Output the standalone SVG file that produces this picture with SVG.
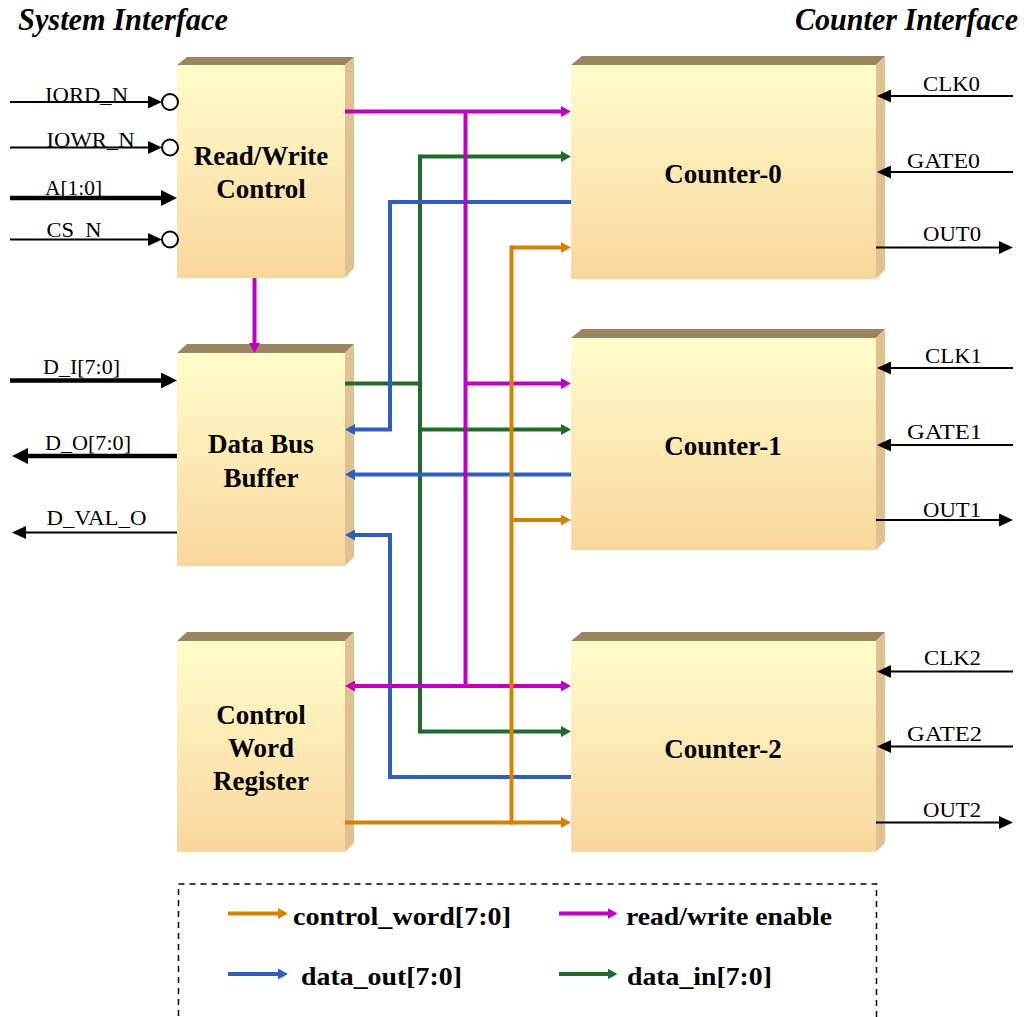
<svg xmlns="http://www.w3.org/2000/svg" width="1024" height="1017" viewBox="0 0 1024 1017">
<style>
.front{stroke:none}
.top{fill:#9A8462}
.side{fill:#E1C190}
.lbl{font-family:"Liberation Serif","Times New Roman",serif;font-weight:bold;font-size:27px;fill:#000;text-anchor:middle}
.io{font-family:"Liberation Serif","Times New Roman",serif;font-size:22px;fill:#000}
.ttl{font-family:"Liberation Serif","Times New Roman",serif;font-weight:bold;font-style:italic;font-size:31px;fill:#000}
.leg{font-family:"Liberation Serif","Times New Roman",serif;font-weight:bold;font-size:26px;fill:#000}
.w{fill:none;stroke-width:4;stroke-linejoin:miter;stroke-linecap:butt}
.m{stroke:#BF00BF}
.g{stroke:#1F6B2A}
.b{stroke:#2F5EBD}
.o{stroke:#D68000}
.thin{fill:none;stroke:#000;stroke-width:2}
.thick{fill:none;stroke:#000;stroke-width:4.5}
</style>
<defs>
<linearGradient id="fg" x1="0" y1="0" x2="0" y2="1">
<stop offset="0" stop-color="#FFFDCA"/>
<stop offset="1" stop-color="#FAD69E"/>
</linearGradient>
<marker id="aM" markerUnits="userSpaceOnUse" markerWidth="10" markerHeight="11" refX="0.5" refY="5.5" orient="auto-start-reverse"><path d="M0,0 L10,5.5 L0,11 z" fill="#BF00BF"/></marker>
<marker id="aG" markerUnits="userSpaceOnUse" markerWidth="10" markerHeight="11" refX="0.5" refY="5.5" orient="auto-start-reverse"><path d="M0,0 L10,5.5 L0,11 z" fill="#1F6B2A"/></marker>
<marker id="aB" markerUnits="userSpaceOnUse" markerWidth="10" markerHeight="11" refX="0.5" refY="5.5" orient="auto-start-reverse"><path d="M0,0 L10,5.5 L0,11 z" fill="#2F5EBD"/></marker>
<marker id="aO" markerUnits="userSpaceOnUse" markerWidth="10" markerHeight="11" refX="0.5" refY="5.5" orient="auto-start-reverse"><path d="M0,0 L10,5.5 L0,11 z" fill="#D68000"/></marker>
<marker id="aT" markerUnits="userSpaceOnUse" markerWidth="14" markerHeight="13" refX="0.5" refY="6.5" orient="auto"><path d="M0,0 L14,6.5 L0,13 z" fill="#000"/></marker>
<marker id="aK" markerUnits="userSpaceOnUse" markerWidth="16" markerHeight="16" refX="0.5" refY="8" orient="auto"><path d="M0,0 L16,8 L0,16 z" fill="#000"/></marker>
</defs>

<text class="ttl" x="18" y="30" textLength="210" lengthAdjust="spacingAndGlyphs">System Interface</text>
<text class="ttl" x="795" y="30" textLength="223" lengthAdjust="spacingAndGlyphs">Counter Interface</text>

<g id="rw-control">
<polygon class="top" points="177,65 187,57 354,57 345,65"/>
<polygon class="side" points="345,65 354,57 354,268 345,278"/>
<rect x="177" y="65" width="168" height="213" fill="url(#fg)"/>
<text class="lbl" x="261" y="165">Read/Write</text>
<text class="lbl" x="261" y="198">Control</text>
</g>

<g id="data-bus-buffer">
<polygon class="top" points="177,353 187,344 354,344 345,353"/>
<polygon class="side" points="345,353 354,344 354,557 345,566"/>
<rect x="177" y="353" width="168" height="213" fill="url(#fg)"/>
<text class="lbl" x="261" y="453">Data Bus</text>
<text class="lbl" x="261" y="487">Buffer</text>
</g>

<g id="control-word-register">
<polygon class="top" points="177,641 187,632 354,632 345,641"/>
<polygon class="side" points="345,641 354,632 354,843 345,852"/>
<rect x="177" y="641" width="168" height="211" fill="url(#fg)"/>
<text class="lbl" x="261" y="724">Control</text>
<text class="lbl" x="261" y="757">Word</text>
<text class="lbl" x="261" y="790">Register</text>
</g>

<g id="counter-0">
<polygon class="top" points="571,65 582,56 885,56 876,65"/>
<polygon class="side" points="876,65 885,56 885,270 876,279"/>
<rect x="571" y="65" width="305" height="214" fill="url(#fg)"/>
<text class="lbl" x="723" y="183">Counter-0</text>
</g>

<g id="counter-1">
<polygon class="top" points="571,338 582,329 885,329 876,338"/>
<polygon class="side" points="876,338 885,329 885,541 876,550"/>
<rect x="571" y="338" width="305" height="212" fill="url(#fg)"/>
<text class="lbl" x="723" y="455">Counter-1</text>
</g>

<g id="counter-2">
<polygon class="top" points="571,641 582,632 885,632 876,641"/>
<polygon class="side" points="876,641 885,632 885,843 876,852"/>
<rect x="571" y="641" width="305" height="211" fill="url(#fg)"/>
<text class="lbl" x="723" y="758">Counter-2</text>
</g>

<g id="connectors">
<!-- green data_in -->
<path class="w g" d="M420,154.5 V733.5"/>
<path class="w g" d="M420,156.5 H561.5" marker-end="url(#aG)"/>
<path class="w g" d="M345,383.5 H420"/>
<path class="w g" d="M420,429.5 H561.5" marker-end="url(#aG)"/>
<path class="w g" d="M420,731.5 H561.5" marker-end="url(#aG)"/>
<!-- blue data_out -->
<path class="w b" d="M571,202 H390 V429.5 H354.5" marker-end="url(#aB)"/>
<path class="w b" d="M571,474.5 H354.5" marker-end="url(#aB)"/>
<path class="w b" d="M571,777 H390 V535 H354.5" marker-end="url(#aB)"/>
<!-- magenta read/write enable -->
<path class="w m" d="M465.5,111.5 V686"/>
<path class="w m" d="M345,111.5 H561.5" marker-end="url(#aM)"/>
<path class="w m" d="M465.5,383.5 H561.5" marker-end="url(#aM)"/>
<path class="w m" d="M354.5,686 H561.5" marker-start="url(#aM)" marker-end="url(#aM)"/>
<path class="w m" d="M254.5,278 V343.5" marker-end="url(#aM)"/>
<!-- orange control_word -->
<path class="w o" d="M511.5,245.5 V824.5"/>
<path class="w o" d="M511.5,247.5 H561.5" marker-end="url(#aO)"/>
<path class="w o" d="M511.5,520 H561.5" marker-end="url(#aO)"/>
<path class="w o" d="M345,822.5 H561.5" marker-end="url(#aO)"/>

<!-- system interface -->
<path class="thin" d="M10,102 H148.5" marker-end="url(#aT)"/>
<circle cx="170" cy="102" r="8" fill="#fff" stroke="#000" stroke-width="2"/>
<path class="thin" d="M10,147.5 H148.5" marker-end="url(#aT)"/>
<circle cx="170" cy="147.5" r="8" fill="#fff" stroke="#000" stroke-width="2"/>
<path class="thick" d="M10,198 H161.5" marker-end="url(#aK)"/>
<path class="thin" d="M10,239.5 H148.5" marker-end="url(#aT)"/>
<circle cx="170" cy="239.5" r="8" fill="#fff" stroke="#000" stroke-width="2"/>
<path class="thick" d="M10,380.5 H161.5" marker-end="url(#aK)"/>
<path class="thick" d="M177,456 H27.5" marker-end="url(#aK)"/>
<path class="thin" d="M177,532.5 H25.5" marker-end="url(#aT)"/>

<!-- counter interface -->
<path class="thin" d="M1013,96 H890.5" marker-end="url(#aT)"/>
<path class="thin" d="M1013,172 H890.5" marker-end="url(#aT)"/>
<path class="thin" d="M876,247.5 H999.5" marker-end="url(#aT)"/>
<path class="thin" d="M1013,368 H890.5" marker-end="url(#aT)"/>
<path class="thin" d="M1013,445 H890.5" marker-end="url(#aT)"/>
<path class="thin" d="M876,520 H999.5" marker-end="url(#aT)"/>
<path class="thin" d="M1013,671.5 H890.5" marker-end="url(#aT)"/>
<path class="thin" d="M1013,746.5 H890.5" marker-end="url(#aT)"/>
<path class="thin" d="M876,822.5 H999.5" marker-end="url(#aT)"/>
</g>

<g id="io-labels">
<text class="io" x="45" y="101.5" textLength="83" lengthAdjust="spacingAndGlyphs">IORD_N</text>
<text class="io" x="46.5" y="146.5" textLength="88" lengthAdjust="spacingAndGlyphs">IOWR_N</text>
<text class="io" x="45" y="195" textLength="57" lengthAdjust="spacingAndGlyphs">A[1:0]</text>
<text class="io" x="46.5" y="237" textLength="55" lengthAdjust="spacingAndGlyphs">CS_N</text>
<text class="io" x="43" y="373.5" textLength="77" lengthAdjust="spacingAndGlyphs">D_I[7:0]</text>
<text class="io" x="45" y="450" textLength="86" lengthAdjust="spacingAndGlyphs">D_O[7:0]</text>
<text class="io" x="46.5" y="525" textLength="100" lengthAdjust="spacingAndGlyphs">D_VAL_O</text>
<text class="io" x="923" y="91" textLength="57" lengthAdjust="spacingAndGlyphs">CLK0</text>
<text class="io" x="907" y="167.5" textLength="73" lengthAdjust="spacingAndGlyphs">GATE0</text>
<text class="io" x="923" y="240.5" textLength="58" lengthAdjust="spacingAndGlyphs">OUT0</text>
<text class="io" x="925" y="363" textLength="57" lengthAdjust="spacingAndGlyphs">CLK1</text>
<text class="io" x="907" y="438.5" textLength="75" lengthAdjust="spacingAndGlyphs">GATE1</text>
<text class="io" x="923" y="516.5" textLength="58" lengthAdjust="spacingAndGlyphs">OUT1</text>
<text class="io" x="924" y="665" textLength="57" lengthAdjust="spacingAndGlyphs">CLK2</text>
<text class="io" x="907" y="740.5" textLength="75" lengthAdjust="spacingAndGlyphs">GATE2</text>
<text class="io" x="923" y="816.5" textLength="58" lengthAdjust="spacingAndGlyphs">OUT2</text>
</g>

<g id="legend">
<rect x="178.5" y="884" width="698" height="160" fill="none" stroke="#000" stroke-width="1.5" stroke-dasharray="6,5"/>
<path class="w o" d="M228,913.5 H278.5" marker-end="url(#aO)"/>
<text class="leg" x="293" y="925" textLength="218" lengthAdjust="spacingAndGlyphs">control_word[7:0]</text>
<path class="w m" d="M559,913.5 H608" marker-end="url(#aM)"/>
<text class="leg" x="626" y="925" textLength="206" lengthAdjust="spacingAndGlyphs">read/write enable</text>
<path class="w b" d="M228,974 H278.5" marker-end="url(#aB)"/>
<text class="leg" x="301" y="985" textLength="161" lengthAdjust="spacingAndGlyphs">data_out[7:0]</text>
<path class="w g" d="M559,974 H608" marker-end="url(#aG)"/>
<text class="leg" x="627" y="985" textLength="145" lengthAdjust="spacingAndGlyphs">data_in[7:0]</text>
</g>
</svg>
